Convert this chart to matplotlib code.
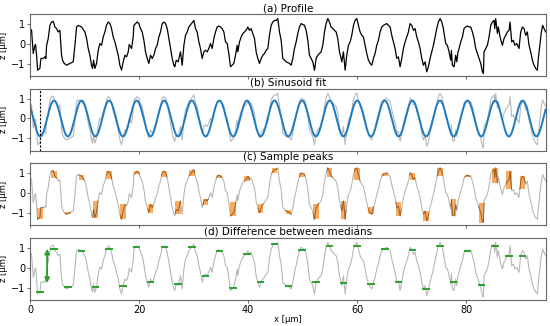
import numpy as np
import matplotlib
matplotlib.use('Agg')
import matplotlib.pyplot as plt

# Profile (x in um, z in um)
profile_x = [0.0, 0.24, 0.55, 0.86, 0.98, 1.16, 1.35, 1.77, 1.96, 2.39, 2.69, 2.87, 3.0, 3.30, 3.61, 3.91, 4.22, 4.53, 4.83, 5.14,
             5.44, 5.63, 5.75, 5.93, 6.24, 6.67, 7.28, 7.89, 8.2, 8.5, 8.81, 9.42, 10.03, 10.34, 10.64, 10.95, 11.25, 11.44, 11.62, 11.87,
             12.17, 12.48, 12.78, 13.09, 13.39, 13.70, 14.0, 14.31, 14.62, 14.92, 15.23, 15.54, 15.84, 16.15, 16.45, 16.76, 17.06, 17.37, 17.68, 17.98,
             18.17, 18.6, 18.9, 19.02, 19.33, 19.63, 19.94, 20.24, 20.55, 20.86, 21.16, 21.47, 21.77, 22.08, 22.39, 22.69, 23.0, 23.3, 23.61, 23.91,
             24.22, 24.53, 24.83, 25.14, 25.44, 25.75, 26.06, 26.36, 26.54, 26.79, 27.16, 27.58, 27.89, 28.2, 28.5, 28.81, 29.11, 29.6, 30.03, 30.34,
             30.64, 30.95, 31.25, 31.56, 31.87, 32.17, 32.48, 32.78, 33.09, 33.39, 33.7, 34.01, 34.31, 34.62, 34.92, 35.23, 35.54, 35.84, 36.15, 36.45,
             36.76, 37.06, 37.37, 37.68, 37.98, 38.1, 38.41, 38.72, 39.02, 39.33, 39.63, 39.94, 40.24, 40.55, 40.86, 41.16, 41.47, 41.77, 42.08, 42.39,
             42.69, 43.0, 43.3, 43.61, 43.91, 44.22, 44.53, 44.83, 45.14, 45.44, 45.75, 46.06, 46.36, 46.67, 46.97, 47.58, 47.89, 48.2, 48.5, 48.81,
             49.11, 49.42, 49.72, 50.03, 50.34, 50.64, 50.95, 51.25, 51.56, 51.87, 52.17, 52.48, 52.78, 53.09, 53.39, 53.7, 54.01, 54.31, 54.62, 54.92,
             55.23, 55.54, 55.84, 56.15, 56.45, 56.76, 57.06, 57.19, 57.49, 57.8, 58.1, 58.41, 58.72, 59.02, 59.33, 59.63, 59.94, 60.24, 60.55, 60.86,
             61.16, 61.47, 61.77, 62.08, 62.39, 62.69, 63.0, 63.3, 63.61, 63.91, 64.22, 64.53, 64.83, 65.44, 65.75, 66.06, 66.36, 66.67, 66.97, 67.28,
             67.58, 67.89, 68.2, 68.5, 68.81, 69.11, 69.42, 69.72, 70.03, 70.34, 70.64, 70.95, 71.25, 71.56, 71.87, 72.17, 72.48, 72.78, 73.09, 73.39,
             73.7, 74.01, 74.31, 74.62, 74.92, 75.23, 75.54, 75.84, 75.96, 76.27, 76.57, 76.88, 77.19, 77.31, 77.49, 77.8, 78.1, 78.29, 78.53, 78.72,
             79.02, 79.33, 79.63, 79.94, 80.24, 80.55, 80.86, 81.16, 81.47, 81.77, 82.08, 82.39, 82.69, 83.0, 83.18, 83.3, 83.61, 83.91, 84.22, 84.53,
             84.83, 85.14, 85.26, 85.44, 85.75, 85.93, 86.24, 86.48, 86.67, 86.97, 87.28, 87.58, 87.89, 88.07, 88.38, 88.69, 88.93, 89.3, 89.72, 90.03,
             90.34, 90.64, 90.95, 91.25, 91.56, 91.87, 92.17, 92.48, 92.78, 93.09, 93.27, 93.58, 93.82, 94.07, 94.31, 94.62]
profile_z = [0.77, 0.68, -0.48, -0.07, -0.03, -0.57, -1.32, -1.23, -0.73, -0.73, -0.65, -0.73, -0.07, 0.27, 0.93, 1.1, 1.13, 0.85, 0.77, 0.6,
             0.68, -0.07, -0.57, -0.82, -0.98, -1.07, -0.98, -0.9, -0.07, 0.85, 0.93, 0.85, 0.6, 0.27, -0.23, -0.57, -1.07, -1.23, -0.82, -1.23,
             -0.98, -0.32, 0.02, -0.07, 0.35, 0.6, 0.93, 1.1, 1.02, 0.77, 0.35, 0.1, -0.23, -0.57, -1.07, -1.32, -0.9, -0.57, -0.65, -0.4,
             -0.03, -0.23, 0.35, 0.93, 1.02, 1.1, 1.02, 0.77, 0.6, 0.18, -0.4, -0.73, -0.98, -0.57, -0.73, -0.57, -0.23, -0.07, 0.35, 0.6,
             1.02, 1.1, 1.02, 0.77, 0.27, -0.23, -0.73, -1.07, -1.15, -0.82, -0.9, -0.4, -1.07, -0.07, 0.43, 0.6, 0.85, 1.02, 1.18, 0.77,
             0.6, 0.1, -0.23, -0.73, -0.4, -0.32, -0.4, -0.23, 0.02, -0.23, 0.27, 0.6, 0.85, 0.9, 0.85, 0.77, 0.6, 0.1, 0.02, -0.48,
             -1.15, -1.07, -0.98, -0.57, -0.07, -0.4, 0.1, 0.35, 0.52, 0.6, 0.68, 0.85, 0.68, 0.77, 0.52, 0.27, -0.4, -0.73, -0.98, -0.73,
             -0.57, -0.48, -0.32, -0.23, 0.43, 0.93, 1.1, 1.18, 1.18, 1.27, 0.6, 0.18, -0.73, -0.82, -0.9, -0.98, -1.07, -0.73, -0.23, 0.1,
             0.52, 0.85, 1.02, 0.97, 0.93, 0.68, 0.18, -0.57, -0.73, -0.9, -1.32, -0.73, -0.57, -0.48, -0.4, -0.07, 0.6, 1.02, 1.27, 1.1,
             0.85, 0.77, 0.68, 0.6, 0.27, -0.4, -0.73, -0.9, -0.4, -1.32, -0.57, -0.07, 0.1, 0.43, 0.93, 1.18, 1.27, 0.93, 0.6, 0.43,
             0.35, -0.07, -0.48, -0.82, -0.98, -1.07, -0.73, -0.48, -0.07, 0.18, 0.6, 0.85, 0.93, 1.02, 0.93, 0.85, 0.43, 0.1, -0.23, -0.73,
             -0.65, -1.15, -0.73, -0.23, 0.1, 0.35, 0.6, 1.02, 0.93, 0.68, 0.77, 0.35, 0.1, -0.23, -0.73, -1.07, -0.9, -1.4, -1.15, -0.73,
             -0.4, -0.07, 0.35, 0.77, 1.1, 1.27, 1.1, 0.77, 0.52, 0.02, -0.07, -0.4, -0.82, -0.32, -1.07, -1.15, -0.57, -0.9, -0.4, -0.23,
             0.1, 0.35, 0.77, 0.85, 0.9, 0.85, 0.85, 0.6, 0.27, -0.23, -0.48, -0.73, -0.98, -1.4, -1.48, -0.4, -0.23, -0.07, 0.35, 0.93,
             1.1, 1.18, 0.77, 1.27, 0.52, 0.85, 0.35, 0.1, -0.07, 0.27, 0.43, 0.6, 0.68, 1.1, 0.1, 0.18, -0.07, 0.02, -0.23, 0.6,
             0.85, 0.77, 0.43, 0.6, -0.07, -0.4, -0.82, -1.07, -1.23, -1.32, -0.73, 0.02, 0.6, 0.93, 0.77, 0.6]

# Sinusoid fit parameters
fit_amplitude = 0.9
fit_period = 5.06
fit_first_min = 1.83
fit_offset = 0.0
n_windows = 36        # alternating minimum / maximum windows
window_width = 1.0

x_max = 94.6
x = np.array(profile_x)
z = np.array(profile_z)

x_fit = np.linspace(0, x_max, 800)
z_fit = fit_offset - fit_amplitude * np.cos(2 * np.pi * (x_fit - fit_first_min) / fit_period)

centers = fit_first_min + np.arange(n_windows) * fit_period / 2

# stats in every window
stats = []
for c in centers:
    lo, hi = c - window_width / 2, c + window_width / 2
    m = (x >= lo) & (x <= hi)
    edges = np.interp([lo, hi], x, z)
    vals = np.concatenate([z[m], edges])
    stats.append((lo, hi, vals.min(), vals.max(), np.median(vals)))

fig, axes = plt.subplots(4, 1, figsize=(5.5, 3.26), dpi=100, sharex=True)
fig.subplots_adjust(left=0.055, right=0.992, top=0.957, bottom=0.08, hspace=0.2)

gray = '#b8b8b8'
titles = ['(a) Profile', '(b) Sinusoid fit', '(c) Sample peaks', '(d) Difference between medians']

for ax, t in zip(axes, titles):
    ax.set_title(t, fontsize=7.5, pad=2)
    ax.set_xlim(0, x_max)
    ax.set_ylim(-1.62, 1.5)
    ax.set_yticks([-1, 0, 1])
    ax.set_ylabel('z [µm]', fontsize=6, labelpad=2)
    ax.tick_params(labelsize=7, length=2.5, width=0.6, pad=1.2, color='#555555')
    for s in ax.spines.values():
        s.set_color('#666666')
        s.set_linewidth(0.8)

# (a)
axes[0].plot(x, z, color='black', lw=0.9)

# (b)
axes[1].plot(x, z, color=gray, lw=0.8)
axes[1].plot(x_fit, z_fit, color='#1f7bbf', lw=1.4)
axes[1].axvline(fit_first_min, color='black', lw=0.8, ls=(0, (2, 1.5)))

# (c)
axes[2].plot(x, z, color=gray, lw=0.8)
for lo, hi, zmin, zmax, med in stats:
    axes[2].fill_between([lo, hi], zmin, zmax, color='#f5902a', alpha=0.75, lw=0, zorder=3)
    m = (x >= lo) & (x <= hi)
    seg_x = np.concatenate([[lo], x[m], [hi]])
    seg_z = np.interp(seg_x, x, z)
    axes[2].plot(seg_x, seg_z, color='#9a5a20', lw=0.6, zorder=4)

# (d)
axes[3].plot(x, z, color=gray, lw=0.8)
for lo, hi, zmin, zmax, med in stats:
    axes[3].plot([lo, hi], [med, med], color='#2ca02c', lw=1.4, zorder=3)
meds = np.array([s[4] for s in stats])
low_med = meds[0::2].mean()
high_med = meds[1::2].mean()
x_arrow = (centers[0] + centers[1]) / 2
axes[3].annotate('', xy=(x_arrow, high_med), xytext=(x_arrow, low_med),
                 arrowprops=dict(arrowstyle='<|-|>', color='#2ca02c', lw=1.3,
                                 mutation_scale=7, shrinkA=0, shrinkB=0))
axes[3].set_xticks([0, 20, 40, 60, 80])
axes[3].set_xlabel('x [µm]', fontsize=6, labelpad=0)

fig.savefig('out.png', dpi=100)
